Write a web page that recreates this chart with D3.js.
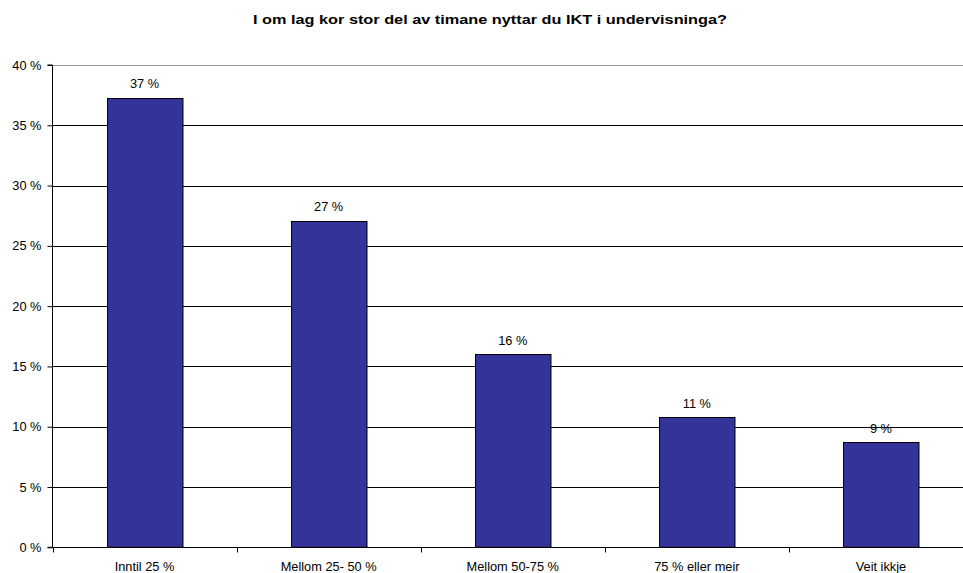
<!DOCTYPE html>
<html>
<head>
<meta charset="utf-8">
<script src="https://cdn.jsdelivr.net/npm/d3@7/dist/d3.min.js"></script>
<style>
  html, body { margin: 0; padding: 0; background: #fff; }
  svg { display: block; font-family: "Liberation Sans", Arial, sans-serif; }
</style>
</head>
<body>
<svg id="chart" width="963" height="573"></svg>
<script>
// Survey answers: share of lessons where ICT is used in teaching
const title = "I om lag kor stor del av timane nyttar du IKT i undervisninga?";
const categories = ["Inntil 25 %", "Mellom 25- 50 %", "Mellom 50-75 %", "75 % eller meir", "Veit ikkje"];
const values = [37.3, 27.1, 16.0, 10.8, 8.7];
const yTicks = [0, 5, 10, 15, 20, 25, 30, 35, 40];

const svg = d3.select("#chart");
const margin = { left: 52.5, right: -10, top: 65, bottom: 26 };
const W = 963, H = 573;
const fontSize = 12.8;

const x = d3.scaleBand()
  .domain(categories)
  .range([margin.left, W - margin.right])
  .paddingInner(0.59)
  .paddingOuter(0.295);

const y = d3.scaleLinear()
  .domain([0, 40])
  .range([547.3, 65]);

// Title, set in a wide bold face
svg.append("text")
  .attr("x", 490)
  .attr("y", 23.5)
  .attr("text-anchor", "middle")
  .attr("font-weight", "bold")
  .attr("font-size", 13)
  .attr("textLength", 474)
  .attr("lengthAdjust", "spacingAndGlyphs")
  .attr("fill", "#000")
  .text(title);

// Horizontal gridlines
svg.append("g")
  .selectAll("line")
  .data(yTicks.filter(d => d > 0))
  .join("line")
  .attr("x1", margin.left)
  .attr("x2", W)
  .attr("y1", d => Math.round(y(d)) + 0.5)
  .attr("y2", d => Math.round(y(d)) + 0.5)
  .attr("stroke", d => d === 40 ? "#9a9a9a" : "#000")
  .attr("stroke-width", 1);

// Bars
svg.append("g")
  .selectAll("rect")
  .data(values)
  .join("rect")
  .attr("x", (d, i) => Math.round(x(categories[i])) + 0.5)
  .attr("y", d => Math.round(y(d)) + 0.5)
  .attr("width", x.bandwidth())
  .attr("height", d => y(0) - Math.round(y(d)) - 0.5)
  .attr("fill", "#333399")
  .attr("stroke", "#000")
  .attr("stroke-width", 1);

// Value labels
svg.append("g")
  .selectAll("text")
  .data(values)
  .join("text")
  .attr("x", (d, i) => x(categories[i]) + x.bandwidth() / 2)
  .attr("y", d => y(d) - 9.5)
  .attr("text-anchor", "middle")
  .attr("font-size", fontSize)
  .attr("fill", "#000")
  .text(d => d3.format(".0f")(d) + " %");

// Y axis
const yAxis = d3.axisLeft(y)
  .tickValues(yTicks)
  .tickSize(5)
  .tickPadding(6)
  .tickFormat(d => d + " %");
const gy = svg.append("g")
  .attr("transform", `translate(${margin.left},0)`)
  .call(yAxis);
gy.select(".domain").attr("stroke", "#000").attr("d", `M-5,${y(0)}H0V${y(40)}H-5`);
gy.selectAll("text").attr("font-size", fontSize).attr("fill", "#000").attr("font-family", "Liberation Sans, Arial, sans-serif");
gy.selectAll("line").attr("stroke", "#000");

// X axis baseline with ticks between categories
const gx = svg.append("g").attr("transform", `translate(0,${Math.round(y(0)) + 0.5})`);
gx.append("line")
  .attr("x1", margin.left)
  .attr("x2", W)
  .attr("stroke", "#000");
const step = x.step();
gx.selectAll("line.sep")
  .data(d3.range(categories.length + 1))
  .join("line")
  .attr("class", "sep")
  .attr("x1", i => Math.round(margin.left + i * step) + 0.5)
  .attr("x2", i => Math.round(margin.left + i * step) + 0.5)
  .attr("y1", 0)
  .attr("y2", 5)
  .attr("stroke", "#000");
gx.selectAll("text")
  .data(categories)
  .join("text")
  .attr("x", d => x(d) + x.bandwidth() / 2)
  .attr("y", 23)
  .attr("text-anchor", "middle")
  .attr("font-size", fontSize)
  .attr("fill", "#000")
  .text(d => d);
</script>
</body>
</html>
